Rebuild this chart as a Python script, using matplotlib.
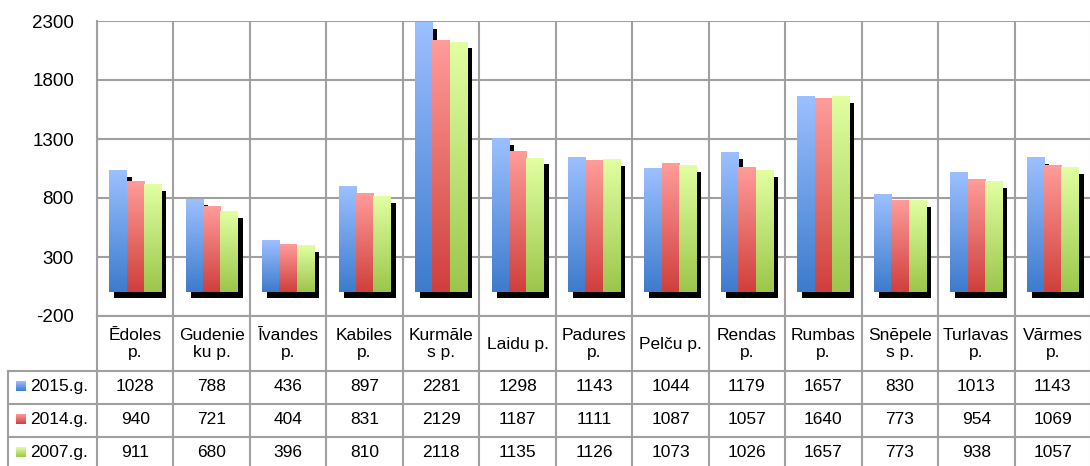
import numpy as np
import matplotlib
matplotlib.use('Agg')
import matplotlib.pyplot as plt
from matplotlib import transforms, font_manager
from matplotlib.colors import LinearSegmentedColormap

# dati
categories = ['Ēdoles\np.', 'Gudenie\nku p.', 'Īvandes\np.', 'Kabiles\np.', 'Kurmāle\ns p.',
              'Laidu p.', 'Padures\np.', 'Pelču p.', 'Rendas\np.', 'Rumbas\np.',
              'Snēpele\ns p.', 'Turlavas\np.', 'Vārmes\np.']
series = ['2015.g.', '2014.g.', '2007.g.']
v2015 = [1028, 788, 436, 897, 2281, 1298, 1143, 1044, 1179, 1657, 830, 1013, 1143]
v2014 = [940, 721, 404, 831, 2129, 1187, 1111, 1087, 1057, 1640, 773, 954, 1069]
v2007 = [911, 680, 396, 810, 2118, 1135, 1126, 1073, 1026, 1657, 773, 938, 1057]
values = [v2015, v2014, v2007]
yticks = [-200, 300, 800, 1300, 1800, 2300]

# krasas (apaksa -> augsa)
grads = [('#3d7bcc', '#9cc0ff'), ('#cf3f3c', '#ff9c9a'), ('#9cc64a', '#e2ffa2')]
cmaps = [LinearSegmentedColormap.from_list('g%d' % i, c) for i, c in enumerate(grads)]
grid_c = '#a0a0a0'

names = {f.name for f in font_manager.fontManager.ttflist}
font = 'Liberation Sans Narrow' if 'Liberation Sans Narrow' in names else 'Liberation Sans'
plt.rcParams['font.family'] = [font, 'DejaVu Sans']
plt.rcParams['axes.unicode_minus'] = False

W, H = 1090, 466
fig = plt.figure(figsize=(W / 100, H / 100), dpi=100)
ax = fig.add_axes([97 / W, 1 - 316 / H, 994 / W, 295 / H])

x = np.arange(len(categories))
bw = 0.227
grad = np.linspace(0, 1, 256).reshape(-1, 1)
shadow = transforms.offset_copy(ax.transData, fig=fig, x=5, y=-6, units='dots')

for s in range(3):
    xs = x + (s - 1) * bw
    ax.bar(xs, values[s], width=bw, color='black', transform=shadow, zorder=2)
    for xi, v in zip(xs, values[s]):
        ax.imshow(grad, cmap=cmaps[s], extent=(xi - bw / 2, xi + bw / 2, 0, v),
                  origin='lower', aspect='auto', zorder=3, interpolation='bilinear')

ax.set_xlim(-0.5, len(categories) - 0.5)
ax.set_ylim(-200, 2300)
ax.set_yticks(yticks)
ax.set_xticks(np.arange(-0.5, len(categories), 1))
ax.set_xticklabels([])
ax.grid(True, color=grid_c, lw=1.5, zorder=1)
ax.tick_params(length=0, pad=16.5, labelsize=13.5)
for sp in ['top', 'right', 'bottom']:
    ax.spines[sp].set_visible(False)
ax.spines['left'].set_color(grid_c)
ax.spines['left'].set_linewidth(1.5)

# tabula
fig.canvas.draw()
tax = fig.add_axes([0, 0, 1, 1])
tax.set_xlim(0, W)
tax.set_ylim(H, 0)
tax.axis('off')

bounds = [ax.transData.transform((i - 0.5, 0))[0] for i in range(len(categories) + 1)]
rows = [316, 371, 404, 437, 470]
kw = dict(color=grid_c, lw=1.5)
for b in bounds:
    tax.plot([b, b], [rows[0], H], **kw)
tax.plot([8, 8], [rows[1], H], **kw)
tax.plot([bounds[0], W], [rows[0], rows[0]], **kw)
for r in rows[1:4]:
    tax.plot([8, W], [r, r], **kw)

fs = 12.5
for i, lab in enumerate(categories):
    cx = (bounds[i] + bounds[i + 1]) / 2
    tax.text(cx, 344, lab, ha='center', va='center', fontsize=fs, linespacing=1.1)
    for s in range(3):
        cy = (rows[s + 1] + rows[s + 2]) / 2 - 1
        tax.text(cx, cy, str(values[s][i]), ha='center', va='center', fontsize=fs)

for s in range(3):
    cy = (rows[s + 1] + rows[s + 2]) / 2 - 1
    tax.imshow(grad, cmap=cmaps[s], extent=(16, 26, cy + 5, cy - 5), origin='lower',
               aspect='auto', interpolation='bilinear')
    tax.text(30, cy, series[s], ha='left', va='center', fontsize=fs)
tax.set_xlim(0, W)
tax.set_ylim(H, 0)

fig.savefig('out.png', dpi=100)
